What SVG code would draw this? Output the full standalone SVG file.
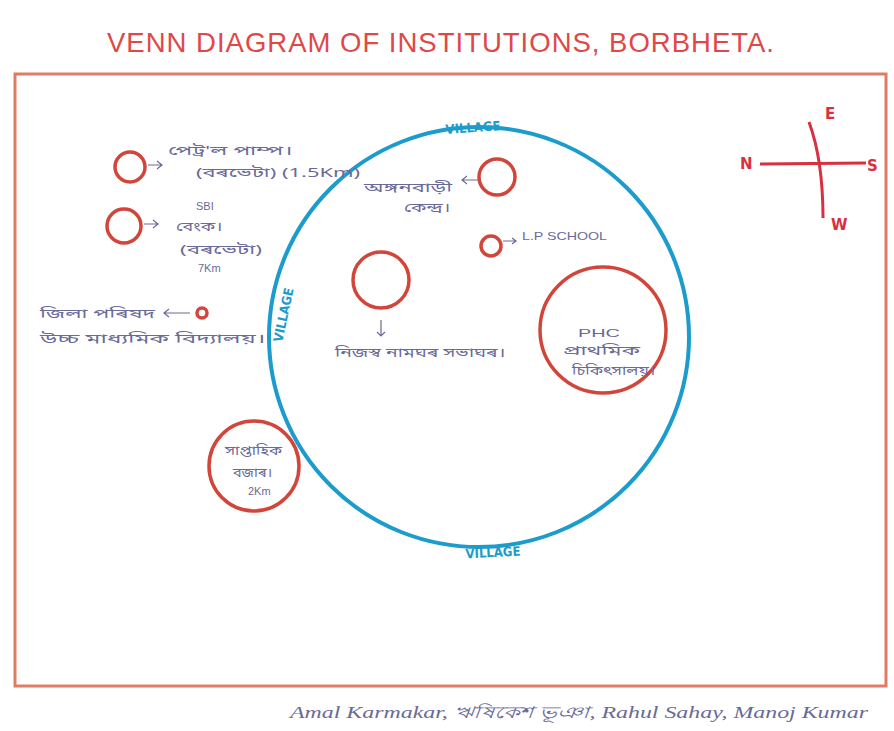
<svg xmlns="http://www.w3.org/2000/svg" width="894" height="731" viewBox="0 0 894 731">
<defs>
<style>
.title{font-family:"Liberation Sans Narrow","Liberation Sans","DejaVu Sans",sans-serif;font-size:28px;fill:#e04848;letter-spacing:1px}
.red{fill:none;stroke:#d2453a;stroke-width:3.5}
.blue{fill:none;stroke:#1c9ccc;stroke-width:4}
.vl{font-family:"DejaVu Sans Condensed","DejaVu Sans",sans-serif;font-size:13px;font-weight:bold;fill:#1c9ccc}
.ink{font-family:"Noto Sans Bengali","Noto Sans","Lohit Assamese","Lohit Bengali","Noto Serif Bengali",sans-serif;font-size:13px;fill:#6a6a98}
.inkl{font-family:"Liberation Sans","DejaVu Sans",sans-serif;font-size:11px;fill:#6a6a98}
.cmp{font-family:"DejaVu Sans",sans-serif;font-size:15px;font-weight:bold;fill:#d83040}
.sig{font-family:"Liberation Serif","DejaVu Serif",serif;font-style:italic;font-size:16px;fill:#6a6a98}
.arr{fill:none;stroke:#6a6a98;stroke-width:1.2}
</style>
</defs>
<rect width="894" height="731" fill="#ffffff"/>
<text class="title" x="107" y="52" textLength="668" lengthAdjust="spacingAndGlyphs">VENN DIAGRAM OF INSTITUTIONS, BORBHETA.</text>
<rect x="15" y="74" width="871" height="612" fill="none" stroke="#e07c66" stroke-width="3"/>

<g id="village">
<circle class="blue" cx="479" cy="337" r="210"/>
<text class="vl" x="473" y="132" text-anchor="middle" transform="rotate(-4 473 128)">VILLAGE</text>
<text class="vl" x="493" y="557" text-anchor="middle" transform="rotate(-3 493 553)">VILLAGE</text>
<text class="vl" x="284" y="319" text-anchor="middle" transform="rotate(-78 284 315)">VILLAGE</text>
</g>

<g id="petrol">
<circle class="red" cx="130" cy="167" r="15"/>
<text class="ink" x="168" y="155" textLength="124" lengthAdjust="spacingAndGlyphs">পেট্ৰ'ল পাম্প।</text>
<text class="ink" x="196" y="177" textLength="164" lengthAdjust="spacingAndGlyphs">(বৰভেটা) (1.5Km)</text>
</g>
<g id="bank">
<circle class="red" cx="124" cy="226" r="17"/>
<text class="inkl" x="196" y="210">SBI</text>
<text class="ink" x="176" y="231" textLength="46" lengthAdjust="spacingAndGlyphs">বেংক।</text>
<text class="ink" x="180" y="254" textLength="82" lengthAdjust="spacingAndGlyphs">(বৰভেটা)</text>
<text class="inkl" x="198" y="272">7Km</text>
</g>
<g id="highschool">
<circle class="red" cx="202" cy="313" r="5"/>
<text class="ink" x="40" y="318" textLength="115" lengthAdjust="spacingAndGlyphs">জিলা পৰিষদ</text>
<text class="ink" x="40" y="343" textLength="225" lengthAdjust="spacingAndGlyphs">উচ্চ মাধ্যমিক বিদ্যালয়।</text>
</g>
<g id="anganwadi">
<circle class="red" cx="497" cy="177" r="18"/>
<text class="ink" x="364" y="192" textLength="88" lengthAdjust="spacingAndGlyphs">অঙ্গনবাড়ী</text>
<text class="ink" x="404" y="212" textLength="46" lengthAdjust="spacingAndGlyphs">কেন্দ্ৰ।</text>
</g>
<g id="lpschool">
<circle class="red" cx="491" cy="246" r="10"/>
<text class="inkl" x="522" y="240" font-size="8" textLength="85" lengthAdjust="spacingAndGlyphs">L.P SCHOOL</text>
</g>
<g id="namghar">
<circle class="red" cx="381" cy="280" r="28"/>
<text class="ink" x="335" y="357" textLength="170" lengthAdjust="spacingAndGlyphs">নিজস্ব নামঘৰ সভাঘৰ।</text>
</g>
<g id="phc">
<circle class="red" cx="603" cy="330" r="63"/>
<text class="inkl" x="578" y="337" font-size="19" textLength="42" lengthAdjust="spacingAndGlyphs">PHC</text>
<text class="ink" x="563" y="355" font-size="11" textLength="77" lengthAdjust="spacingAndGlyphs">প্ৰাথমিক</text>
<text class="ink" x="572" y="375" font-size="11" textLength="83" lengthAdjust="spacingAndGlyphs">চিকিৎসালয়।</text>
</g>
<g id="market">
<circle class="red" cx="254" cy="466" r="45"/>
<text class="ink" x="225" y="455" font-size="11" textLength="57" lengthAdjust="spacingAndGlyphs">সাপ্তাহিক</text>
<text class="ink" x="233" y="477" font-size="11" textLength="39" lengthAdjust="spacingAndGlyphs">বজাৰ।</text>
<text class="inkl" x="248" y="495" font-size="9">2Km</text>
</g>

<g id="connectors">
<path class="arr" d="M148 165 L162 165 M157 161 L162 165 L157 169"/>
<path class="arr" d="M144 224 L158 224 M153 220 L158 224 L153 228"/>
<path class="arr" d="M190 313 L164 313 M169 309 L164 313 L169 317"/>
<path class="arr" d="M478 180 L462 180 M467 176 L462 180 L467 184"/>
<path class="arr" d="M503 241 L516 241 M512 238 L516 241 L512 244"/>
<path class="arr" d="M381 320 L381 336 M377 332 L381 336 L385 332"/>
</g>

<g id="compass">
<path d="M760 164 L866 163" stroke="#d83040" stroke-width="3" fill="none"/>
<path d="M809 122 Q823 160 823 218" stroke="#d83040" stroke-width="3" fill="none"/>
<text class="cmp" x="825" y="119">E</text>
<text class="cmp" x="740" y="169">N</text>
<text class="cmp" x="867" y="171" font-size="19">S</text>
<text class="cmp" x="831" y="230">W</text>
</g>

<text class="sig" x="290" y="718" textLength="578" lengthAdjust="spacingAndGlyphs">Amal Karmakar, ঋষিকেশ ভূঞা, Rahul Sahay, Manoj Kumar</text>
</svg>
